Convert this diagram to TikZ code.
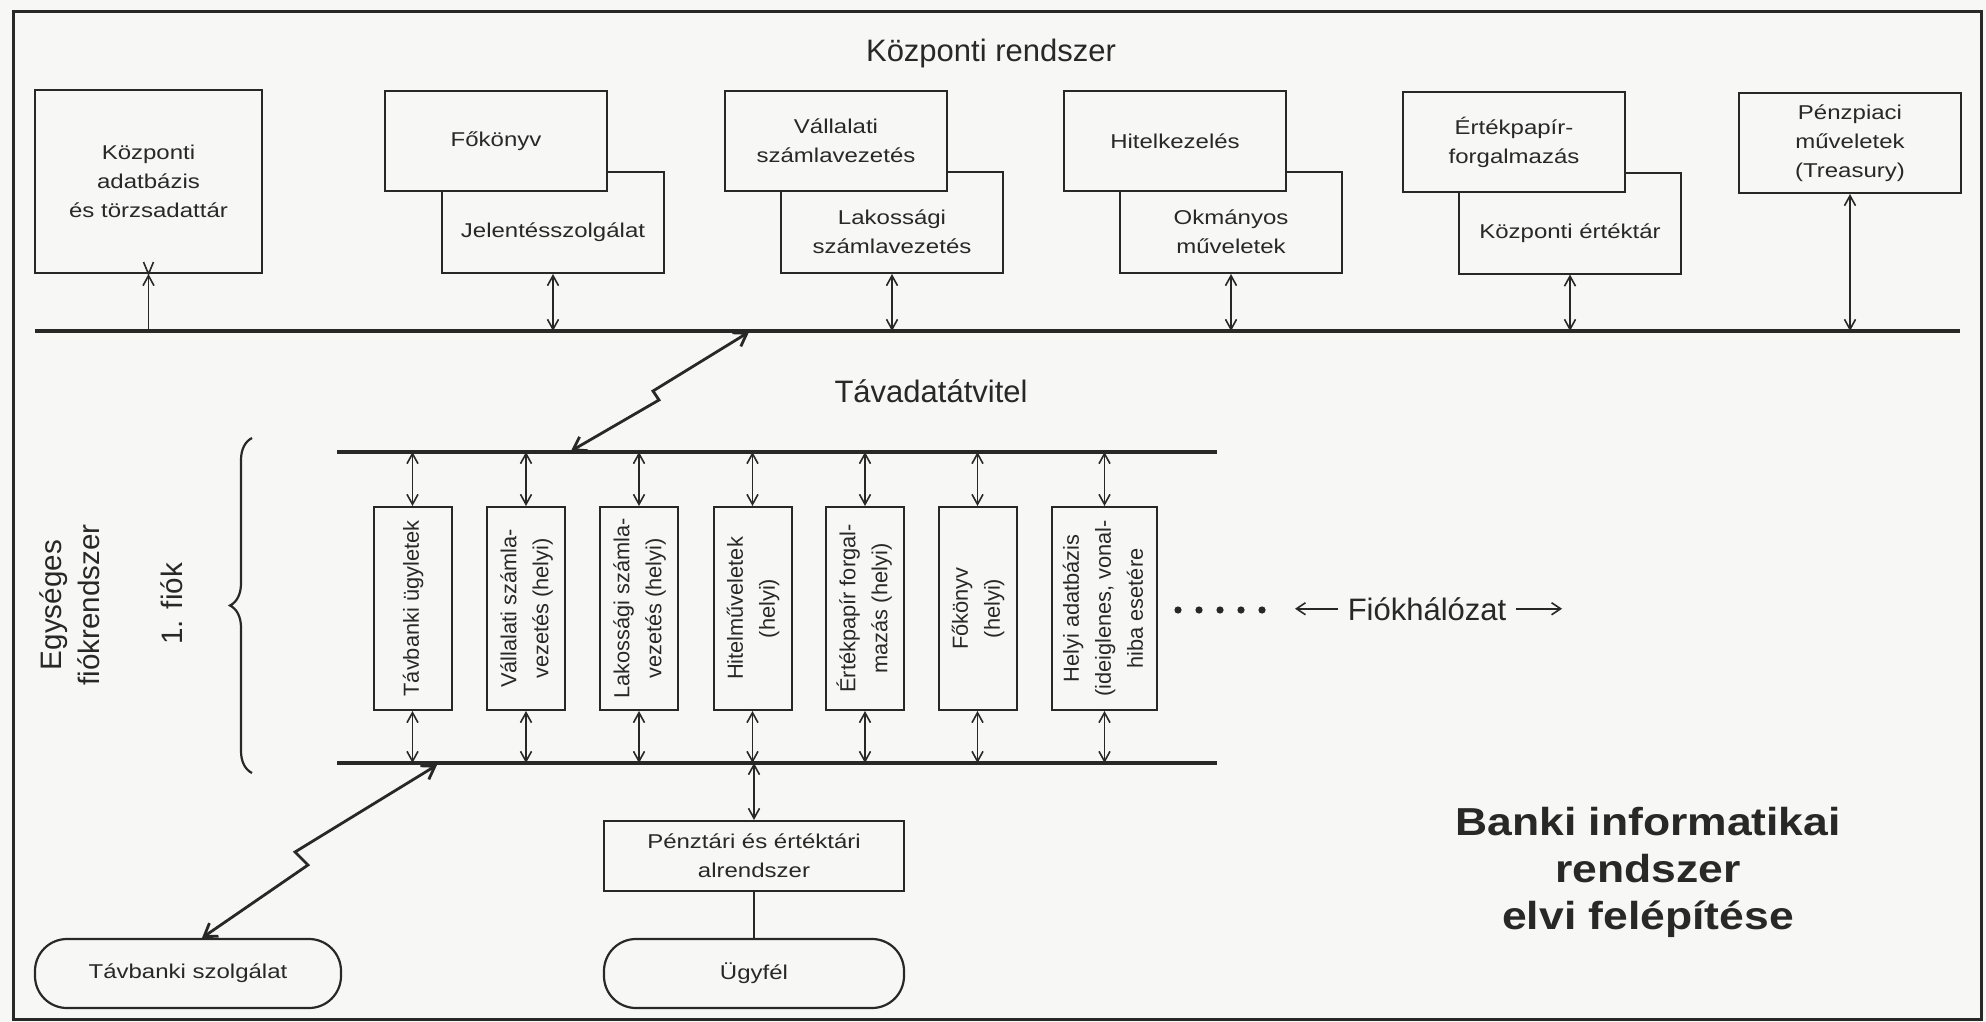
\documentclass[tikz,border=0pt]{standalone}
\usepackage{fontspec}
\usepackage{graphicx}
\setmainfont{Liberation Sans}
\newfontfamily\hfont[FakeStretch=1.2]{Liberation Sans}
\newfontfamily\tfont[FakeStretch=1.14]{Liberation Sans}
\usetikzlibrary{arrows.meta,decorations.pathreplacing,calc}
\definecolor{ink}{RGB}{40,40,40}
\definecolor{paper}{RGB}{247,247,245}
\newcommand\vtext[1]{\rotatebox{90}{\begin{tabular}{@{}c@{}}#1\end{tabular}}}
\tikzset{
  box/.style={draw=ink, line width=1pt, fill=paper, inner sep=0pt, align=center, text=ink,
     font=\hfont\fontsize{10}{14.5}\selectfont, minimum width=111pt},
  frontbox/.style={box, minimum height=50pt},
  backbox/.style={box, minimum height=50.5pt},
  btext/.style={text=ink, inner sep=0pt, align=center, font=\hfont\fontsize{10}{14.5}\selectfont},
  vbox/.style={draw=ink, line width=1pt, fill=paper, inner sep=0pt, text=ink, minimum width=39pt,
     minimum height=101.5pt, font=\fontsize{10.9}{16}\selectfont},
  stadium/.style={draw=ink, line width=1.1pt, rounded corners=16pt, fill=paper, minimum width=150pt,
     minimum height=34.5pt, inner sep=0pt, text=ink, font=\hfont\fontsize{10}{14.5}\selectfont},
  bus/.style={draw=ink, line width=1.8pt},
  framebox/.style={draw=ink, line width=1.5pt},
  thinline/.style={draw=ink, line width=0.8pt},
  darr/.style={thinline, {Straight Barb[length=5pt,width=5.5pt]}-{Straight Barb[length=5pt,width=5.5pt]}},
  uarr/.style={thinline, -{Straight Barb[length=5pt,width=5.5pt]}},
  zz/.style={draw=ink, line width=1.4pt, line join=miter, {Straight Barb[length=6pt,width=8pt]}-{Straight Barb[length=6pt,width=8pt]}},
  sarr/.style={draw=ink, line width=0.8pt, -{Straight Barb[length=4.5pt,width=6pt]}},
  heading/.style={text=ink, inner sep=0pt, font=\fontsize{15.5}{18}\selectfont},
  sidelabel/.style={text=ink, inner sep=0pt, align=center, rotate=90, font=\fontsize{14.8}{19}\selectfont},
  bigtitle/.style={text=ink, inner sep=0pt, align=center, font=\tfont\bfseries\fontsize{19.5}{23.5}\selectfont},
}
\begin{document}
\begin{tikzpicture}[x=0.5pt,y=-0.5pt]
\useasboundingbox (0,0) rectangle (1986,1022);
\fill[paper] (0,0) rectangle (1986,1022);
\draw[framebox] (13,12) rectangle (1981,1019);

% central system
\node[heading, anchor=base] (kr) at (991,62) {Központi rendszer};

\node[box, minimum width=113.5pt, minimum height=91.5pt] (adat) at (148.5,181.5) {Központi\\adatbázis\\és törzsadattár};

\node[backbox] (jel) at (553,222.5) {};
\node[frontbox] (fok) at (496,141) {Főkönyv};
\node[btext] (jelt) at (553,232) {Jelentésszolgálat};

\node[backbox] (lak) at (892,222.5) {};
\node[frontbox] (vall) at (836,141) {Vállalati\\számlavezetés};
\node[btext] (lakt) at (892,232) {Lakossági\\számlavezetés};

\node[backbox] (okm) at (1231,222.5) {};
\node[frontbox] (hitel) at (1175,141) {Hitelkezelés};
\node[btext] (okmt) at (1231,232) {Okmányos\\műveletek};

\node[backbox] (ertt) at (1570,223) {};
\node[frontbox] (ertp) at (1514,142) {Értékpapír-\\forgalmazás};
\node[btext] (erttt) at (1570,233) {Központi értéktár};

\node[frontbox] (penz) at (1850,143) {Pénzpiaci\\műveletek\\(Treasury)};

\coordinate (tbL) at (35,331);
\coordinate (tbR) at (1960,331);
\draw[bus] (tbL) -- (tbR);

\draw[uarr] (adat.south |- tbL) -- (adat.south);
\draw[thinline] ($(adat.south)+(-5,-12)$) -- (adat.south) -- ($(adat.south)+(5,-12)$);
\draw[darr] (jel.south) -- (jel.south |- tbL);
\draw[darr] (lak.south) -- (lak.south |- tbL);
\draw[darr] (okm.south) -- (okm.south |- tbL);
\draw[darr] (ertt.south) -- (ertt.south |- tbL);
\draw[darr] (penz.south) -- (penz.south |- tbL);

\node[heading, anchor=base] (tavad) at (931,402) {Távadatátvitel};

% branch system
\coordinate (btL) at (337,452);
\coordinate (btR) at (1217,452);
\coordinate (bbL) at (337,763);
\coordinate (bbR) at (1217,763);
\draw[bus] (btL) -- (btR);
\draw[bus] (bbL) -- (bbR);

\coordinate (z1a) at (749,332);
\coordinate (z1b) at (571,451);
\draw[zz] (z1a) -- (653,391) -- (659,400) -- (z1b);

\node[vbox] (v1) at (412.5,608.5) {\vtext{Távbanki ügyletek}};
\node[vbox] (v2) at (526,608.5) {\vtext{Vállalati számla-\\vezetés (helyi)}};
\node[vbox] (v3) at (639,608.5) {\vtext{Lakossági számla-\\vezetés (helyi)}};
\node[vbox] (v4) at (752.5,608.5) {\vtext{Hitelműveletek\\(helyi)}};
\node[vbox] (v5) at (865,608.5) {\vtext{Értékpapír forgal-\\mazás (helyi)}};
\node[vbox] (v6) at (977.5,608.5) {\vtext{Főkönyv\\(helyi)}};
\node[vbox, minimum width=52.5pt] (v7) at (1104.5,608.5) {\vtext{Helyi adatbázis\\(ideiglenes, vonal-\\hiba esetére}};

\foreach \v in {v1,v2,v3,v4,v5,v6,v7} {
  \draw[darr] (\v.north) -- (\v.north |- btL);
  \draw[darr] (\v.south) -- (\v.south |- bbL);
}

\node[sidelabel] (egys) at (70,605) {Egységes\\fiókrendszer};
\node[sidelabel] (fiok1) at (172,604) {1. fiók};
\coordinate (brB) at (252,773);
\coordinate (brT) at (252,438);
\draw[draw=ink, line width=1.1pt, decorate, decoration={brace, amplitude=11pt}] (brB) -- (brT);

\foreach \x in {1178,1199,1220,1241,1262} \fill[ink] (\x,610) circle (1.8pt);
\node[heading, anchor=base, inner xsep=4.5pt] (fh) at (1427,620) {Fiókhálózat};
\coordinate (fhL) at (1295,610);
\coordinate (fhR) at (1562,610);
\draw[sarr] (fh.west) -- (fh.west -| fhL);
\draw[sarr] (fh.east) -- (fh.east -| fhR);

% bottom
\node[box, minimum width=150pt, minimum height=35pt] (penzt) at (754,856) {Pénztári és értéktári\\alrendszer};
\node[stadium] (ugy) at (754,973.5) {Ügyfél};
\node[stadium, minimum width=153pt] (tavsz) at (188,973.5) {Távbanki szolgálat};
\draw[darr] (penzt.north) -- (penzt.north |- bbL);
\draw[thinline] (penzt.south) -- (ugy.north);

\coordinate (z2a) at (437,765);
\draw[zz] (z2a) -- (295,852) -- (308,865) -- ($(tavsz.north)+(14,0)$);

\node[bigtitle] (title) at (1648,872) {Banki informatikai\\rendszer\\elvi felépítése};
\end{tikzpicture}
\end{document}
